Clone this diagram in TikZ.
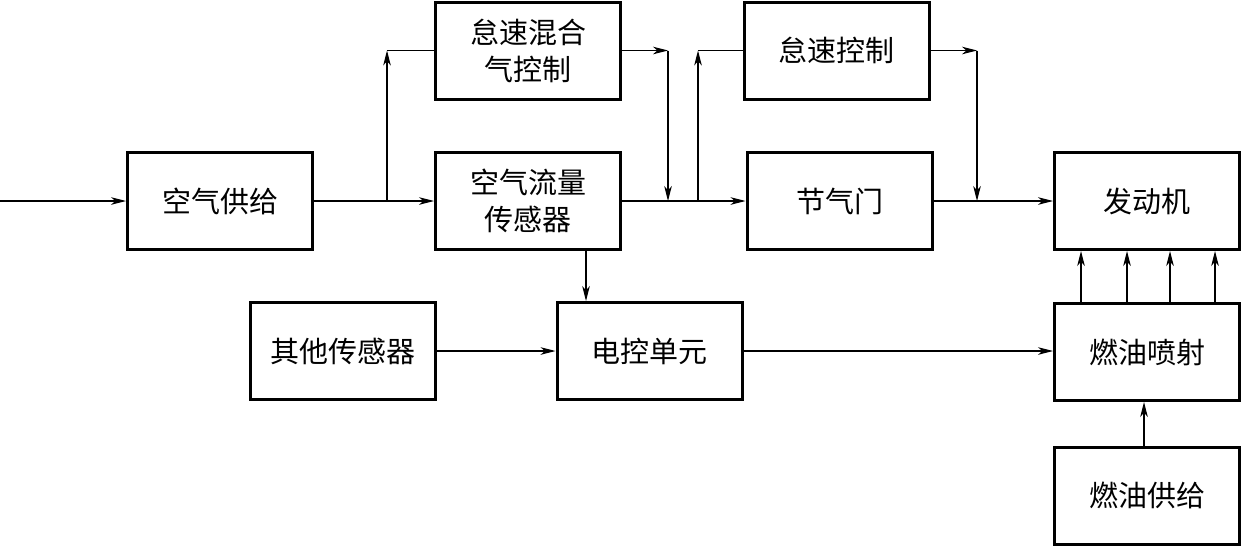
\documentclass[tikz,border=0pt]{standalone}
\usepackage{fontspec}
\setmainfont{Noto Sans CJK SC}
\usetikzlibrary{arrows.meta}
\begin{document}
\begin{tikzpicture}[x=0.5pt,y=-0.5pt,
  blk/.style={draw,line width=1.5pt,minimum width=92.5pt,minimum height=48.5pt,
    inner sep=0pt,align=center,font=\fontsize{14.5pt}{18.5pt}\selectfont},
  conn/.style={line width=0.55pt},
  arr/.style={conn,-{Stealth[length=7.5pt,width=3.8pt,inset=2.2pt]}}]
\useasboundingbox (0,0) rectangle (1241,547);
% boxes
\node[blk] (supply)   at (220,201)   {空气供给};
\node[blk] (idlemix)  at (528,50.5)  {怠速混合\\气控制};
\node[blk] (maf)      at (528,201)   {空气流量\\传感器};
\node[blk] (idlectl)  at (836.5,50.5){怠速控制};
\node[blk] (throttle) at (839.5,201) {节气门};
\node[blk] (engine)   at (1147,201)  {发动机};
\node[blk] (inject)   at (1147,352)  {燃油喷射};
\node[blk] (fuel)     at (1147,495.5){燃油供给};
\node[blk] (other)    at (342.5,351) {其他传感器};
\node[blk] (ecu)      at (649.5,351) {电控单元};
% coordinates
\coordinate (in) at (0,201);
\coordinate (b1) at (387,201);
\coordinate (c1) at (387,50.5);
\coordinate (c2) at (668,50.5);
\coordinate (j2) at (668,201);
\coordinate (b3) at (698,201);
\coordinate (c3) at (698,50.5);
\coordinate (c4) at (977,50.5);
\coordinate (j4) at (977,201);
\coordinate (xe) at (586,0);
\coordinate (xf) at (1144,0);
\coordinate (p1) at (1081,0);
\coordinate (p2) at (1127,0);
\coordinate (p3) at (1170,0);
\coordinate (p4) at (1215,0);
% connectors
\draw[arr] (in) -- (supply.west);
\draw[arr] (supply.east) -- (maf.west);
\draw[arr] (b1) -- (c1);
\draw[conn] (c1) -- (idlemix.west);
\draw[arr] (idlemix.east) -- (c2);
\draw[arr] (c2) -- (j2);
\draw[arr] (maf.east) -- (throttle.west);
\draw[arr] (b3) -- (c3);
\draw[conn] (c3) -- (idlectl.west);
\draw[arr] (idlectl.east) -- (c4);
\draw[arr] (c4) -- (j4);
\draw[arr] (throttle.east) -- (engine.west);
\draw[arr] (maf.south -| xe) -- (ecu.north -| xe);
\draw[arr] (other.east) -- (ecu.west);
\draw[arr] (ecu.east) -- (ecu.east -| inject.west);
\foreach \p in {p1,p2,p3,p4}
  \draw[arr] (inject.north -| \p) -- (engine.south -| \p);
\draw[arr] (fuel.north -| xf) -- (inject.south -| xf);
\end{tikzpicture}
\end{document}
